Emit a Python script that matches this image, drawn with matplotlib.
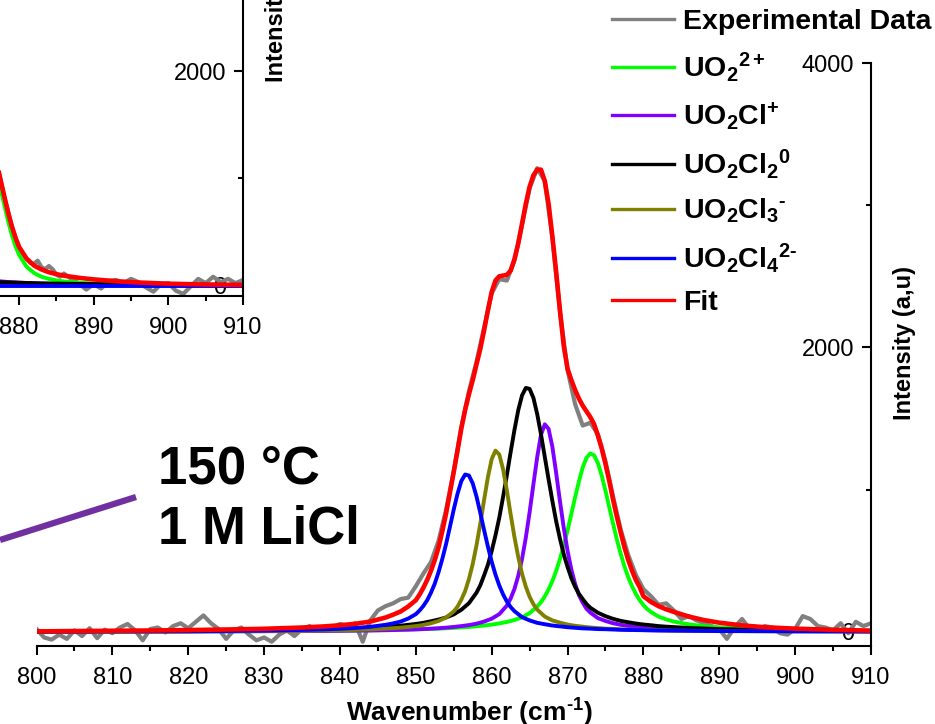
import matplotlib
matplotlib.use('Agg')
import matplotlib.pyplot as plt
from matplotlib.ticker import MultipleLocator
from matplotlib.lines import Line2D

plt.rcParams['font.family'] = ['Liberation Sans', 'DejaVu Sans']
plt.rcParams['mathtext.fontset'] = 'custom'
plt.rcParams['mathtext.rm'] = 'Liberation Sans:bold'
plt.rcParams['mathtext.bf'] = 'Liberation Sans:bold'
plt.rcParams['mathtext.it'] = 'Liberation Sans:bold'
plt.rcParams['mathtext.sf'] = 'Liberation Sans:bold'
plt.rcParams['mathtext.default'] = 'bf'

# ---------------- main spectrum (150 C, 1 M LiCl) ----------------
uo2_x = [800, 805, 810, 815, 820, 825, 830, 835, 838, 840, 842, 844, 846,
         847, 848, 849, 850, 851, 852, 853, 854, 855, 856, 857, 858, 859, 860,
         861, 862, 863, 864, 865, 866, 866.5, 867, 867.5, 868, 868.5, 869,
         869.5, 870, 870.5, 871, 871.5, 872, 872.5, 873, 873.5, 874, 874.5,
         875, 875.5, 876, 876.5, 877, 877.5, 878, 878.5, 879, 879.5, 880,
         880.5, 881, 882, 883, 884, 886, 888, 890, 893, 896, 900, 905, 910]
uo2 = [2, 2, 2, 3, 3, 4, 5, 6, 7, 8, 9, 11, 12,
       13, 14, 16, 17, 19, 20, 22, 25, 27, 31, 34, 39, 44, 50, 59, 69, 83, 102,
       131, 178, 208, 249, 298, 357, 428, 511, 608, 712, 829, 946, 1057, 1156,
       1224, 1254, 1241, 1186, 1099, 992, 875, 760, 649, 549, 460, 384, 320,
       266, 223, 188, 160, 139, 107, 87, 72, 52, 39, 31, 23, 17, 13, 9, 7]

uo2cl_x = [800, 805, 810, 815, 820, 825, 830, 835, 838, 840, 842, 844, 846,
           847, 848, 849, 850, 851, 852, 853, 854, 855, 856, 857, 858, 859, 860,
           861, 862, 862.5, 863, 863.5, 864, 864.5, 865, 865.5, 866, 866.5, 867,
           867.5, 868, 868.5, 869, 869.5, 870, 870.5, 871, 871.5, 872, 872.5,
           873, 874, 875, 876, 877, 878, 879, 880, 881, 882, 883, 884,
           886, 888, 890, 893, 896, 900, 905, 910]
uo2cl = [1, 1, 2, 2, 2, 3, 4, 5, 6, 7, 8, 9, 11,
         12, 14, 15, 17, 19, 22, 25, 29, 34, 40, 47, 57, 72, 92, 124, 184, 234,
         301, 393, 512, 662, 841, 1037, 1228, 1386, 1459, 1427, 1301, 1116, 918,
         731, 570, 438, 336, 258, 205, 162, 135, 96, 76, 60, 49, 41, 35, 30, 26,
         22, 20, 18, 14, 11, 10, 7, 6, 5, 4, 3]

uo2cl2_x = [800, 805, 810, 815, 820, 825, 830, 835, 838, 840, 842, 844, 846,
            847, 848, 849, 850, 851, 852, 853, 854, 855, 856, 857, 858, 858.5,
            859, 859.5, 860, 860.5, 861, 861.5, 862, 862.5, 863, 863.5, 864,
            864.5, 865, 865.5, 866, 866.5, 867, 867.5, 868, 868.5, 869, 869.5,
            870, 870.5, 871, 871.5, 872, 872.5, 873, 874, 875, 876, 877, 878,
            879, 880, 881, 882, 883, 884, 886, 888, 890, 893, 896, 900, 905,
            910]
uo2cl2 = [3, 4, 4, 5, 6, 8, 10, 14, 18, 21, 24, 29, 35,
          39, 43, 49, 55, 63, 74, 86, 101, 122, 155, 201, 275, 327, 397, 471,
          568, 678, 802, 948, 1101, 1264, 1419, 1558, 1662, 1715, 1708, 1645,
          1531, 1389, 1230, 1072, 920, 777, 654, 545, 456, 378, 316, 267, 230,
          195, 169, 134, 110, 91, 77, 67, 58, 51, 46, 40, 36, 33,
          27, 23, 19, 16, 13, 10, 8, 6]

uo2cl3_x = [800, 805, 810, 815, 820, 825, 830, 835, 838, 840, 842, 844, 846,
            847, 848, 849, 850, 851, 852, 853, 854, 855, 855.5, 856, 856.5,
            857, 857.5, 858, 858.5, 859, 859.5, 860, 860.5, 861, 861.5, 862,
            862.5, 863, 863.5, 864, 864.5, 865, 865.5, 866, 867, 868, 869, 870,
            871, 872, 873, 874, 875, 876, 877, 878, 879, 880, 882, 884,
            886, 888, 890, 893, 896, 900, 905, 910]
uo2cl3 = [1, 2, 2, 2, 3, 4, 5, 7, 9, 11, 14, 17, 22,
          25, 29, 34, 40, 48, 60, 76, 101, 143, 177, 226, 286, 370, 477, 609,
          761, 927, 1087, 1214, 1274, 1247, 1143, 994, 826, 666, 527, 408, 317,
          246, 194, 156, 107, 80, 64, 51, 42, 36, 30, 26, 22, 20, 17, 15, 14,
          12, 10, 8, 7, 6, 5, 4, 4, 3, 2, 2]

uo2cl4_x = [800, 805, 810, 815, 820, 825, 830, 835, 838, 840, 842, 844, 846,
            847, 848, 849, 850, 850.5, 851, 851.5, 852, 852.5, 853, 853.5, 854,
            854.5, 855, 855.5, 856, 856.5, 857, 857.5, 858, 858.5, 859, 859.5,
            860, 860.5, 861, 861.5, 862, 862.5, 863, 864, 865, 866, 867, 868,
            869, 870, 871, 872, 873, 874, 875, 876, 877, 878, 879, 880, 882,
            884, 886, 888, 890, 893, 896, 900, 905, 910]
uo2cl4 = [2, 2, 3, 3, 4, 6, 8, 13, 17, 21, 27, 35, 49,
          59, 72, 93, 124, 150, 182, 222, 275, 339, 420, 514, 620, 739, 860,
          971, 1060, 1106, 1099, 1044, 951, 836, 715, 599, 493, 402, 326, 263,
          213, 174, 145, 103, 80, 63, 53, 44, 38, 32, 28, 24, 22, 19, 18, 16,
          14, 13, 12, 11, 9, 8, 7, 6, 5, 5, 4, 3, 3, 2]

fit_x = [800, 805, 810, 815, 820, 825, 830, 835, 838, 840, 842, 844, 846,
         847, 848, 849, 850, 850.5, 851, 851.5, 852, 852.5, 853, 853.5, 854,
         854.5, 855, 855.5, 856, 856.5, 857, 857.5, 858, 858.5, 859, 859.5,
         860, 860.5, 861, 861.5, 862, 862.5, 863, 863.5, 864, 864.5, 865,
         865.5, 866, 866.5, 867, 867.5, 868, 868.5, 869, 869.5, 870, 870.5,
         871, 871.5, 872, 872.5, 873, 873.5, 874, 874.5, 875, 875.5, 876,
         876.5, 877, 877.5, 878, 878.5, 879, 879.5, 880, 881, 882, 883, 884,
         886, 888, 890, 893, 896, 900, 905, 910]
fit = [3, 5, 7, 9, 12, 16, 21, 30, 38, 46, 56, 72, 100,
       120, 143, 178, 222, 262, 310, 365, 430, 505, 595, 710, 835, 980, 1125,
       1275, 1430, 1560, 1670, 1770, 1880, 1990, 2120, 2260, 2390, 2470, 2500,
       2505, 2510, 2540, 2620, 2730, 2870, 3010, 3130, 3210, 3250, 3250, 3170,
       3010, 2780, 2530, 2260, 2010, 1850, 1770, 1700, 1640, 1590, 1550, 1510,
       1460, 1380, 1290, 1180, 1060, 930, 810, 700, 595, 505, 430, 365, 315,
       250, 210, 180, 158, 140, 107, 82, 64, 45, 32, 22, 14, 8]

exp_x = [800, 801, 802, 803, 804, 805, 806, 807, 808, 809, 810, 811, 812, 813,
         814, 815, 816, 817, 818, 819, 820, 821, 822, 823, 824, 825, 826, 827,
         828, 829, 830, 831, 832, 833, 834, 835, 836, 837, 838, 839, 840, 841,
         842, 843, 844, 845, 846, 847, 848, 849, 850, 851, 852, 853, 854, 855,
         856, 857, 858, 859, 860, 861, 862, 863, 864, 865, 866, 867, 868, 869,
         870, 871, 872, 873, 874, 875, 876, 877, 878, 879, 880, 881, 882, 883,
         884, 885, 886, 887, 888, 889, 890, 891, 892, 893, 894, 895, 896, 897,
         898, 899, 900, 901, 902, 903, 904, 905, 906, 907, 908, 909, 910]
exp_y = [20, -40, -55, -20, -50, 10, -30, 25, -45, 15, -10, 30, 55, 10,
         -60, 20, 30, -5, 40, 60, 25, 70, 115, 60, 20, -50, 10, 30,
         -20, -60, -40, -70, -20, 10, -30, 20, 40, 10, 35, 30, 55, 40,
         60, -70, 80, 150, 180, 200, 230, 240, 320, 410, 490, 640, 860, 1130,
         1440, 1690, 1900, 2140, 2380, 2480, 2470, 2610, 2860, 3120, 3260,
         3170, 2770, 2250, 1840, 1600, 1450, 1470, 1390, 1200, 950, 720, 540,
         400, 300, 250, 190, 200, 150, 90, 110, 80, 60, 40, 20, -50, 30, 90, 20,
         10, 40, 30, -10, -20, 20, 110, 90, 40, 30, 10, 60, -10, 70, 40, 60]

# ---------------- inset spectrum (partly visible) ----------------
in_x = [877, 877.5, 878, 878.5, 879, 879.5, 880, 881, 882, 883, 884, 885,
        886, 888, 890, 893, 896, 900, 905, 910]
in_uo2 = [1080, 910, 760, 610, 480, 370, 285, 175, 115, 80, 60, 46, 36, 24,
          17, 10, 6, 3, 1, 0]
in_uo2cl = [40, 37, 34, 31, 29, 27, 25, 21, 18, 16, 14, 12, 11, 9, 8, 6, 5,
            4, 3, 2]
in_uo2cl2 = [30, 29, 28, 27, 26, 25, 24, 22, 20, 18, 17, 16, 15, 13, 11, 9,
             8, 6, 5, 4]
in_uo2cl4 = [-8, -8, -8, -8, -8, -8, -8, -8, -8, -8, -8, -8, -8, -8, -8, -8,
             -8, -8, -8, -8]
in_fit = [1150, 990, 840, 690, 560, 450, 360, 250, 185, 148, 122, 104, 90,
          70, 55, 38, 26, 15, 7, 3]
in_exp_x = [877, 877.5, 878, 878.5, 879, 879.5, 880, 880.5, 881, 881.5, 882,
            882.5, 883, 883.5, 884, 884.5, 885, 885.5, 886, 887, 888, 889, 890,
            891, 892, 893, 894, 895, 896, 897, 898, 899, 900, 901, 902, 903,
            904, 905, 906, 907, 908, 909, 910]
in_exp_y = [1140, 1000, 830, 700, 560, 450, 350, 300, 250, 210, 200, 230, 170,
            150, 180, 150, 100, 80, 110, 60, 20, -40, 10, -30, 40, 50, 20, 60,
            30, -20, -60, 10, 20, -50, -80, -10, 60, 20, 80, 30, 60, 20, 50]

HY = '\u2010'  # short hyphen used in the superscript charges
legend_labels = ['Experimental Data', r'UO$_2{}^{2+}$', r'UO$_2$Cl$^{+}$',
                 r'UO$_2$Cl$_2{}^{0}$', r'UO$_2$Cl$_3{}^{' + HY + '}$',
                 r'UO$_2$Cl$_4{}^{2' + HY + '}$', 'Fit']
colors = ['#808080', '#00FF00', '#8000FF', '#000000', '#808000', '#0000FF',
          '#FF0000']

W, H = 935, 724
fig = plt.figure(figsize=(W / 100, H / 100), dpi=100)


def style_axes(a):
    a.spines['top'].set_visible(False)
    a.spines['right'].set_visible(False)
    a.spines['left'].set_position(('axes', 1.0))
    for s in ('left', 'bottom'):
        a.spines[s].set_linewidth(1.5)
    a.set_xlim(800, 910)
    a.set_ylim(-100, 4000)
    a.xaxis.set_major_locator(MultipleLocator(10))
    a.xaxis.set_minor_locator(MultipleLocator(5))
    a.yaxis.set_major_locator(MultipleLocator(2000))
    a.yaxis.set_minor_locator(MultipleLocator(1000))
    a.tick_params(which='major', direction='out', length=6.5, width=1.5,
                  labelsize=17)
    a.tick_params(which='minor', direction='out', length=3.5, width=1.5)
    a.tick_params(axis='x', pad=8.5)
    a.tick_params(axis='y', pad=5.5)
    a.set_facecolor('none')


# inset (mostly outside the visible canvas)
ax_in = fig.add_axes([-578.3 / W, (H - 296) / H, 821.3 / W, 439 / H])
style_axes(ax_in)
ax_in.plot(in_exp_x, in_exp_y, color=colors[0], lw=3.0)
ax_in.plot(in_x, in_uo2, color=colors[1], lw=2.8)
ax_in.plot(in_x, in_uo2cl, color=colors[2], lw=2.8)
ax_in.plot(in_x, in_uo2cl2, color=colors[3], lw=2.8)
ax_in.plot(in_x, in_uo2cl4, color=colors[5], lw=2.8)
ax_in.plot(in_x, in_fit, color=colors[6], lw=3.3)
ax_in.text((277 + 578.3) / 821.3, (296 - 82) / 439, 'Intensity (a,u)',
           rotation=90, transform=ax_in.transAxes, ha='center', va='bottom',
           fontsize=17, fontweight='bold')

# main axes
ax = fig.add_axes([36.5 / W, (H - 646) / H, (871 - 36.5) / W, (646 - 63) / H])
style_axes(ax)
series = [(exp_x, exp_y), (uo2_x, uo2), (uo2cl_x, uo2cl), (uo2cl2_x, uo2cl2),
          (uo2cl3_x, uo2cl3), (uo2cl4_x, uo2cl4), (fit_x, fit)]
for i, ((xs, vals), lab, col) in enumerate(zip(series, legend_labels, colors)):
    lw = 3.0 if i == 0 else (3.3 if i == 6 else 2.8)
    ax.plot(xs, vals, color=col, lw=lw, label=lab)

ax.set_xlabel('Wavenumber (cm$^{' + HY + '1}$)', fontsize=19,
              fontweight='bold')
ax.xaxis.set_label_coords((469 - 36.5) / 834.5, (646 - 697) / 583)
ax.text((904 - 36.5) / 834.5, 0.52, 'Intensity (a,u)', rotation=90,
        transform=ax.transAxes, ha='center', va='center',
        fontsize=17, fontweight='bold')

leg = ax.legend(loc='upper left', bbox_to_anchor=(612 / W, 1 - 9 / H),
                bbox_transform=fig.transFigure, frameon=False,
                prop={'weight': 'bold', 'size': 20.5}, handlelength=2.18,
                handletextpad=0.32, labelspacing=0.55, borderpad=0,
                borderaxespad=0)
for h in leg.get_lines():
    h.set_linewidth(2.4)

fig.text(158 / W, 1 - 445 / H, '150 °C\n1 M LiCl', fontsize=38,
         fontweight='bold', ha='left', va='top', linespacing=1.25)
fig.add_artist(Line2D([0, 136 / W], [1 - 540 / H, 1 - 497 / H],
                      color='#7030A0', lw=4.5, solid_capstyle='butt',
                      transform=fig.transFigure))

fig.savefig('out.png', dpi=100)
